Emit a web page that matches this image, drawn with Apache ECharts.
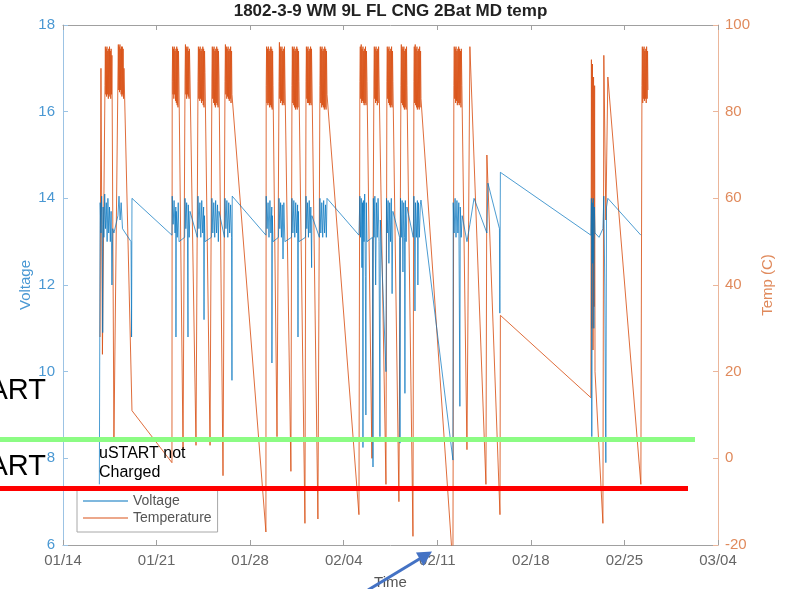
<!DOCTYPE html>
<html>
<head>
<meta charset="utf-8">
<script src="https://cdn.jsdelivr.net/npm/echarts@6/dist/echarts.min.js"></script>
<style>
html,body{margin:0;padding:0;background:#fff;}
#chart{width:786px;height:589px;}
</style>
</head>
<body>
<div id="chart"></div>
<script>
// x values are days since 01/14
const dayTicks = ['01/14','01/21','01/28','02/04','02/11','02/18','02/25','03/04'];
const voltTicks = [6,8,10,12,14,16,18];
const tempTicks = [-20,0,20,40,60,80,100];

const tempWeek1 = [
[2.77,28],[2.84,90],[2.95,24],
[3.14,86],[3.17,95],[3.20,84],[3.23,94.5],[3.26,83.5],[3.29,95],[3.32,84],[3.35,94],[3.39,83],[3.42,94.5],[3.45,83.5],[3.48,95],[3.51,84],[3.54,94],[3.57,83],[3.60,94.5],[3.63,84],[3.66,93],
[3.81,4],
[4.11,88],[4.14,95.5],[4.17,85],[4.20,95],[4.23,84.5],[4.26,95.5],[4.29,85],[4.32,94.5],[4.35,84],[4.38,95],[4.41,83.5],[4.44,95],[4.47,84],[4.50,94.5],[4.53,83],[4.56,90],
[5.16,11]
];
const tempWeek2 = [
[8.15,-1],
[8.17,87],[8.20,95],[8.23,84],[8.26,94.5],[8.29,83],[8.32,95],[8.35,84],[8.38,94],[8.42,82.5],[8.45,94.5],[8.48,82],[8.51,95],[8.54,81.5],[8.57,94.5],[8.60,81],[8.64,94],[8.67,88],
[8.98,2],
[9.13,88],[9.16,95.5],[9.19,84],[9.22,95],[9.25,83],[9.28,94.5],[9.31,84],[9.34,95],[9.37,83.5],[9.40,94],[9.43,83],[9.46,94.5],[9.50,88],
[9.95,3],
[10.10,87],[10.13,95],[10.16,83],[10.20,94.5],[10.23,82.5],[10.26,95],[10.29,83],[10.33,94],[10.36,82],[10.39,94.5],[10.42,82.5],[10.46,95],[10.49,81.5],[10.52,94.5],[10.55,81],[10.59,94],[10.62,89],
[11.00,3],
[11.14,88],[11.17,95],[11.20,83],[11.24,94.5],[11.27,82],[11.30,95],[11.34,81.5],[11.37,94],[11.40,81],[11.43,94.5],[11.47,82],[11.50,95],[11.53,81.5],[11.57,94.5],[11.60,81],[11.63,94],[11.67,88],
[11.97,-4],
[12.12,87],[12.15,95.5],[12.18,84],[12.22,95],[12.25,83],[12.28,94.5],[12.31,83.5],[12.35,95],[12.38,83],[12.41,94],[12.44,82.5],[12.48,94.5],[12.51,83],[12.54,95],[12.57,82],[12.61,94],[12.64,84]
];
const tempWeek3 = [
[15.18,-17],
[15.20,86],[15.23,95],[15.26,82],[15.30,94.5],[15.33,81.5],[15.36,95],[15.39,82],[15.43,94],[15.46,81],[15.49,94.5],[15.52,81.5],[15.55,95],[15.59,81],[15.62,94.5],[15.65,80.5],[15.68,94],[15.71,86],
[16.01,5],
[16.16,87],[16.19,96],[16.22,83],[16.25,95],[16.28,82],[16.31,94.5],[16.35,82.5],[16.38,95],[16.41,81.5],[16.44,94],[16.47,82],[16.51,94.5],[16.54,81.5],[16.57,95],[16.60,88],
[17.05,-3],
[17.13,86],[17.16,95],[17.19,82],[17.23,94.5],[17.26,81.5],[17.29,95],[17.32,81],[17.36,94],[17.39,80.5],[17.42,94.5],[17.45,81],[17.49,95],[17.52,80.5],[17.55,94.5],[17.58,81],[17.62,94],[17.65,87],
[18.10,-15],
[18.18,87],[18.21,95],[18.24,83],[18.27,94.5],[18.30,82],[18.33,95],[18.36,82],[18.40,94],[18.43,81.5],[18.46,94.5],[18.49,82],[18.52,95],[18.56,81.5],[18.59,94.5],[18.62,88],
[19.07,-14],
[19.22,86],[19.25,95],[19.28,82],[19.32,94.5],[19.35,81],[19.38,95],[19.42,81.5],[19.45,94],[19.48,81],[19.51,94.5],[19.55,80.5],[19.58,95],[19.61,81],[19.65,94.5],[19.68,80.5],[19.71,94],[19.75,84]
];
const tempWeek4 = [
[22.14,-13],
[22.21,87],[22.24,95],[22.27,83],[22.31,95.5],[22.34,82],[22.37,94.5],[22.40,82.5],[22.44,95],[22.47,82],[22.50,94],[22.53,81.5],[22.57,94.5],[22.60,82],[22.63,95],[22.67,81.5],[22.70,94],[22.74,87],
[23.11,0],
[23.26,88],[23.29,95],[23.32,83],[23.35,94.5],[23.38,82],[23.42,95],[23.45,82.5],[23.48,94],[23.51,81.5],[23.54,94.5],[23.57,82],[23.61,95],[23.64,88],
[24.16,-6],
[24.23,87],[24.26,95],[24.29,83],[24.32,94.5],[24.36,82],[24.39,95],[24.42,81.5],[24.45,94],[24.49,81],[24.52,94.5],[24.55,81.5],[24.58,95],[24.62,81],[24.65,94],[24.68,87],
[25.13,-10],
[25.28,86],[25.31,95.5],[25.34,82],[25.37,95],[25.41,81.5],[25.44,94.5],[25.47,81],[25.50,95],[25.54,80.5],[25.57,94],[25.60,81],[25.63,94.5],[25.67,80.5],[25.70,95],[25.73,86],
[26.18,-18],
[26.25,87],[26.28,95],[26.31,82],[26.35,95.5],[26.38,81.5],[26.41,94.5],[26.45,81],[26.48,95],[26.51,80.5],[26.55,94],[26.58,81],[26.61,94.5],[26.65,80.5],[26.68,95],[26.71,81],[26.75,94],[26.78,83]
];
const tempWeek5 = [
[29.17,-25],
[29.24,86],[29.27,95],[29.30,83],[29.34,94.5],[29.37,82],[29.40,95],[29.44,82.5],[29.47,94],[29.50,81.5],[29.54,94.5],[29.57,82],[29.60,95],[29.64,81.5],[29.67,94.5],[29.70,82],[29.74,94],[29.77,81],[29.80,94.5],[29.84,86],
[30.22,2],[30.44,95],[31.64,-6],[31.71,70],[32.69,-13],[32.72,33]
];
const tempWeek7 = [
[39.49,14],[39.53,92],[39.57,30],[39.61,91],[39.65,25],[39.69,88],[39.73,35],[39.77,86],[39.80,20],
[40.39,-15],[40.46,93],[40.61,55],[40.76,88],
[43.23,-6],
[43.31,86],[43.34,95],[43.37,82],[43.40,94.5],[43.44,83],[43.47,95],[43.50,82.5],[43.53,94],[43.57,83],[43.60,94.5],[43.63,82],[43.66,95],[43.70,83],[43.73,94],[43.76,85]
];

const voltWeek1 = [
[2.72,7.4],[2.78,13.9],[2.84,13.2],[2.89,14.05],[2.93,13.4],[2.97,10.9],[3.00,13.8],[3.06,13.1],[3.12,14.1],[3.18,13.3],[3.24,13.9],[3.30,13.0],
[3.36,14.0],[3.42,13.2],[3.48,13.8],[3.54,13.0],[3.60,13.7],[3.66,12.0],[3.72,13.3],
[3.81,13.2],[4.11,13.6],[4.19,14.05],[4.27,13.5],[4.35,13.9],[4.45,13.3],[5.09,13.0],[5.13,10.8],[5.16,14.0]
];
const voltWeek2 = [
[8.15,13.15],
[8.17,14.05],[8.24,13.4],[8.31,13.95],[8.38,13.2],[8.44,13.8],[8.45,10.8],[8.47,13.7],[8.55,13.1],[8.62,13.9],[8.68,13.0],
[9.10,13.1],
[9.13,14.0],[9.19,13.3],[9.25,13.9],[9.31,13.2],[9.35,10.8],[9.37,13.85],[9.44,13.1],[9.50,13.7],
[10.05,13.1],
[10.10,14.05],[10.17,13.3],[10.24,13.9],[10.31,13.1],[10.38,13.95],[10.45,13.2],[10.52,13.8],[10.55,11.2],[10.58,13.6],[10.62,13.0],
[11.10,13.1],
[11.14,14.0],[11.21,13.2],[11.28,13.9],[11.35,13.1],[11.42,13.95],[11.49,13.2],[11.56,13.85],[11.62,13.0],[11.67,13.7],
[12.08,13.1],
[12.12,14.0],[12.19,13.3],[12.26,13.95],[12.33,13.1],[12.40,13.9],[12.47,13.2],[12.54,13.85],[12.61,13.1],[12.64,9.8],[12.66,14.05]
];
const voltWeek3 = [
[15.18,13.15],
[15.20,14.05],[15.27,13.3],[15.34,13.9],[15.41,13.1],[15.48,13.95],[15.55,13.2],[15.62,13.8],[15.63,10.2],[15.66,13.6],[15.71,13.0],
[16.12,13.1],
[16.16,14.0],[16.22,13.3],[16.28,13.9],[16.34,13.1],[16.40,13.85],[16.46,12.6],[16.52,13.9],[16.60,13.0],
[17.09,13.1],
[17.13,14.0],[17.20,13.2],[17.27,13.95],[17.34,13.1],[17.41,13.9],[17.48,13.2],[17.55,13.85],[17.58,10.8],[17.61,13.7],[17.65,13.0],
[18.14,13.1],
[18.18,14.05],[18.24,13.3],[18.30,13.9],[18.36,13.1],[18.42,13.95],[18.48,13.2],[18.54,13.8],[18.60,12.4],[18.62,13.6],
[19.18,13.1],
[19.22,14.0],[19.29,13.2],[19.36,13.9],[19.43,13.1],[19.50,13.95],[19.57,13.2],[19.64,13.85],[19.70,13.1],[19.75,14.0]
];
const voltWeek4 = [
[22.14,13.15],
[22.21,14.05],[22.26,13.1],[22.31,14.0],[22.36,12.4],[22.41,13.9],[22.44,8.25],[22.47,13.95],[22.52,13.0],[22.57,14.1],[22.62,12.2],[22.66,9.0],[22.69,13.9],[22.74,13.0],
[23.15,13.1],
[23.19,7.8],[23.22,14.0],[23.27,13.1],[23.33,14.05],[23.39,12.0],[23.45,13.9],[23.51,13.1],[23.57,14.0],[23.64,13.0],[23.71,8.5],[23.74,13.5],
[24.16,10.0],
[24.20,14.0],[24.26,13.2],[24.32,13.95],[24.38,12.5],[24.44,13.9],[24.50,13.0],[24.56,14.0],[24.62,11.8],[24.68,13.7],
[25.18,13.1],
[25.21,8.35],[25.25,14.0],[25.31,13.1],[25.37,13.95],[25.43,12.3],[25.49,13.9],[25.55,13.1],[25.58,9.5],[25.61,13.95],[25.67,13.0],[25.73,13.8],
[26.20,13.1],
[26.25,14.05],[26.30,13.2],[26.33,11.4],[26.37,13.9],[26.44,13.1],[26.51,13.95],[26.55,12.0],[26.59,13.9],[26.66,13.1],[26.73,13.85],[26.78,13.96]
];
const voltWeek5 = [
[29.17,7.96],
[29.19,13.9],[29.26,13.2],[29.33,14.0],[29.40,13.1],[29.47,13.95],[29.54,13.2],[29.61,13.9],[29.69,9.2],[29.72,13.8],[29.79,13.1],[29.86,13.6],
[30.22,13.0],[30.44,13.4],[30.75,14.0],
[31.71,13.2],[31.79,14.35],[32.65,13.3],[32.68,11.35],[32.72,14.6]
];
const voltWeek7 = [
[39.49,13.15],[39.53,14.0],[39.56,8.5],[39.59,13.9],[39.63,12.5],[39.67,14.0],[39.71,11.0],[39.75,13.8],[39.80,13.2],
[40.10,13.1],[40.39,13.3],[40.46,14.05],[40.53,12.0],[40.61,7.9],[40.66,13.8],[40.76,14.0],
[43.23,13.15]
];

const temperature = [].concat(tempWeek1, tempWeek2, tempWeek3, tempWeek4, tempWeek5, tempWeek7);
const voltage = [].concat(voltWeek1, voltWeek2, voltWeek3, voltWeek4, voltWeek5, voltWeek7);

const FONT = 'Liberation Sans, Arial, Helvetica, sans-serif';
const BLUE = '#0072BD', ORANGE = '#D95319';
const LINE_ICON = 'path://M0,0H45V1H0Z';

const chart = echarts.init(document.getElementById('chart'), null, {renderer:'canvas'});
chart.setOption({
  animation: false,
  backgroundColor: '#fff',
  textStyle: {fontFamily: FONT},
  title: {
    text: '1802-3-9 WM 9L FL CNG 2Bat MD temp',
    left: 390.5, textAlign: 'center', top: 3, padding: 0,
    textStyle: {fontSize: 17, fontWeight: 'bold', color: '#222', fontFamily: FONT}
  },
  grid: {left: 63, right: 68, top: 25, bottom: 44, containLabel: false, outerBoundsMode: 'none'},
  legend: {
    data: [{name: 'Voltage', icon: LINE_ICON}, {name: 'Temperature', icon: LINE_ICON}],
    orient: 'vertical', left: 77, top: 490,
    itemWidth: 45, itemHeight: 14, itemGap: 3,
    padding: [4, 6, 7, 6],
    borderColor: '#a8a8a8', borderWidth: 1, backgroundColor: '#fff',
    textStyle: {fontSize: 14, color: '#555', fontFamily: FONT}
  },
  xAxis: [{
    type: 'value', min: 0, max: 49, interval: 7, position: 'bottom',
    name: 'Time', nameLocation: 'middle', nameGap: 30, nameMoveOverlap: false,
    nameTextStyle: {fontSize: 15, color: '#555', fontFamily: FONT},
    axisLine: {show: true, onZero: false, lineStyle: {color: '#a0a0a0'}},
    axisTick: {show: true, inside: true, length: 5, lineStyle: {color: '#a0a0a0'}},
    axisLabel: {fontSize: 15, color: '#666', margin: 8, fontFamily: FONT,
      formatter: v => dayTicks[Math.round(v / 7)]},
    splitLine: {show: false}
  }, {
    type: 'value', min: 0, max: 49, interval: 7, position: 'top',
    axisLine: {show: true, onZero: false, lineStyle: {color: '#a0a0a0'}},
    axisTick: {show: true, inside: true, length: 5, lineStyle: {color: '#a0a0a0'}},
    axisLabel: {show: false}, splitLine: {show: false}
  }],
  yAxis: [{
    type: 'value', min: voltTicks[0], max: voltTicks[voltTicks.length - 1], interval: 2, position: 'left',
    name: 'Voltage', nameLocation: 'middle', nameGap: 30, nameRotate: 90, nameMoveOverlap: false,
    nameTextStyle: {fontSize: 15, color: '#4a98d3', fontFamily: FONT},
    axisLine: {show: true, onZero: false, lineStyle: {color: '#9cc3e4'}},
    axisTick: {show: true, inside: true, length: 5, lineStyle: {color: '#9cc3e4'}},
    axisLabel: {fontSize: 15, color: '#4a98d3', margin: 8, fontFamily: FONT},
    splitLine: {show: false}
  }, {
    type: 'value', min: tempTicks[0], max: tempTicks[tempTicks.length - 1], interval: 20, position: 'right',
    name: 'Temp (C)', nameLocation: 'middle', nameGap: 42, nameRotate: 90, nameMoveOverlap: false,
    nameTextStyle: {fontSize: 15, color: '#e08a5c', fontFamily: FONT},
    axisLine: {show: true, onZero: false, lineStyle: {color: '#ebb69b'}},
    axisTick: {show: true, inside: true, length: 5, lineStyle: {color: '#ebb69b'}},
    axisLabel: {fontSize: 15, color: '#e08a5c', margin: 7, fontFamily: FONT},
    splitLine: {show: false}
  }],
  series: [{
    name: 'Temperature', type: 'line', xAxisIndex: 0, yAxisIndex: 1,
    data: temperature, symbol: 'none', showSymbol: false, clip: true,
    color: ORANGE,
    lineStyle: {width: 1, color: ORANGE, opacity: 0.85}
  }, {
    name: 'Voltage', type: 'line', xAxisIndex: 0, yAxisIndex: 0,
    data: voltage, symbol: 'none', showSymbol: false, clip: true,
    color: BLUE,
    lineStyle: {width: 1, color: BLUE, opacity: 0.7}
  }],
  graphic: [
    {type: 'rect', z: 100, shape: {x: 0, y: 437, width: 695, height: 5}, style: {fill: '#8cfc84'}},
    {type: 'rect', z: 100, shape: {x: 0, y: 486, width: 688, height: 5}, style: {fill: '#ff0000'}},
    {type: 'text', z: 100, x: 46, y: 391, style: {text: 'uSTART', fontSize: 29, fontFamily: FONT, fill: '#000', align: 'right', verticalAlign: 'middle'}},
    {type: 'text', z: 100, x: 46, y: 467, style: {text: 'uSTART', fontSize: 29, fontFamily: FONT, fill: '#000', align: 'right', verticalAlign: 'middle'}},
    {type: 'text', z: 100, x: 99, y: 444, style: {text: 'uSTART not\nCharged', fontSize: 16, lineHeight: 19, fontFamily: FONT, fill: '#000', align: 'left', verticalAlign: 'top'}},
    {type: 'line', z: 100, shape: {x1: 368, y1: 590, x2: 421, y2: 558}, style: {stroke: '#4472C4', lineWidth: 3}},
    {type: 'polygon', z: 100, shape: {points: [[432, 551.5], [416, 552.6], [423.5, 566]]}, style: {fill: '#4472C4'}}
  ]
});
</script>
</body>
</html>
